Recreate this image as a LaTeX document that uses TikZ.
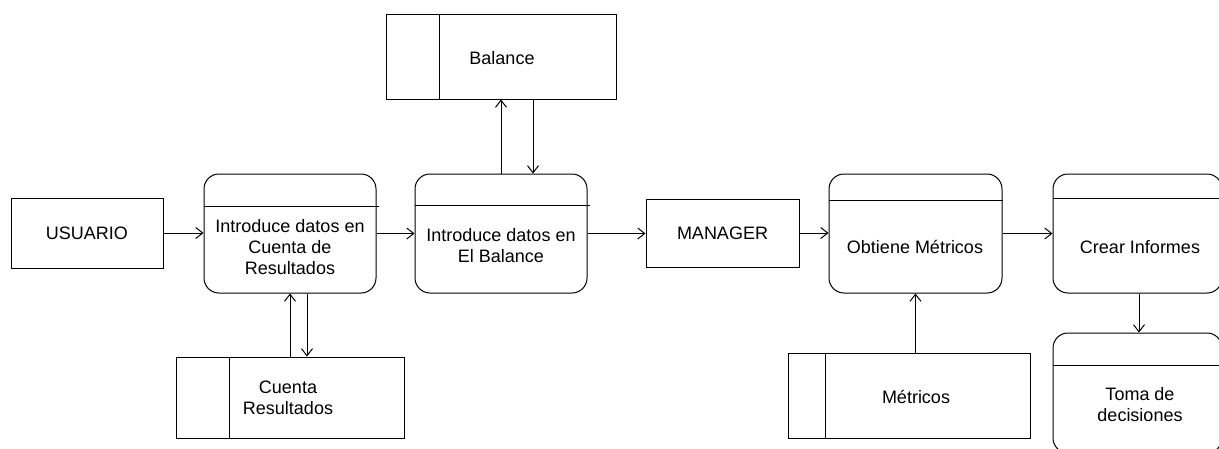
\documentclass[tikz,border=0pt]{standalone}
\usepackage{fontspec}
\setmainfont{Liberation Sans}
\usetikzlibrary{arrows.meta}
\begin{document}
\begin{tikzpicture}[x=1pt,y=-1pt,line width=1pt,
  txt/.style={font=\fontsize{18}{21}\selectfont,align=center,inner sep=0pt},
  ent/.style={draw,rectangle,inner sep=0pt,font=\fontsize{18}{21}\selectfont},
  proc/.style={draw,rectangle,rounded corners=15pt,inner sep=0pt},
  store/.style={draw,rectangle,inner sep=0pt},
  arr/.style={-{Straight Barb[length=7pt,width=11pt]}}]
\useasboundingbox (0,0) rectangle (1219,448);
\clip (0,0) rectangle (1219,448);
% external entities
\node[ent,minimum width=152pt,minimum height=70pt] (usr) at (87,233) {USUARIO};
\node[ent,minimum width=153pt,minimum height=68pt] (mgr) at (722.5,233) {MANAGER};
% processes
\node[proc,minimum width=172pt,minimum height=119pt] (p1) at (290,233.5) {};
\node[proc,minimum width=172pt,minimum height=119pt] (p2) at (501,233.5) {};
\node[proc,minimum width=173pt,minimum height=119pt] (p3) at (915.5,233.5) {};
\node[proc,minimum width=169pt,minimum height=119pt] (p4) at (1137.5,233.5) {};
\node[proc,minimum width=169pt,minimum height=120pt] (p5) at (1137.5,393) {};
\draw ([yshift=-33pt]p1.north west) -- ([yshift=-33pt,xshift=2pt]p1.north east);
\draw ([yshift=-32pt]p2.north west) -- ([yshift=-32pt,xshift=2pt]p2.north east);
\draw ([yshift=-27pt]p3.north west) -- ([yshift=-27pt]p3.north east);
\draw ([yshift=-25pt]p4.north west) -- ([yshift=-25pt]p4.north east);
\draw ([yshift=-33pt]p5.north west) -- ([yshift=-33pt]p5.north east);
\node[txt] (t1) at (290,247) {Introduce datos en\\Cuenta de\\Resultados};
\node[txt] (t2) at (501,246) {Introduce datos en\\El Balance};
\node[txt] (t3) at (915,247) {Obtiene Métricos};
\node[txt] (t4) at (1140,247) {Crear Informes};
\node[txt] (t5) at (1140,405) {Toma de\\decisiones};
% data stores
\node[store,minimum width=230pt,minimum height=85pt] (bal) at (501,56.5) {};
\draw ([xshift=54pt]bal.north west) -- ([xshift=54pt]bal.south west);
\node[txt] (tb) at (502,58) {Balance};
\node[store,minimum width=228pt,minimum height=81pt] (cr) at (290,397.5) {};
\draw ([xshift=54pt]cr.north west) -- ([xshift=54pt]cr.south west);
\node[txt] (tc) at (288,398) {Cuenta\\Resultados};
\node[store,minimum width=242pt,minimum height=85pt] (met) at (909,395.5) {};
\draw ([xshift=38pt]met.north west) -- ([xshift=38pt]met.south west);
\node[txt] (tm) at (916,397) {Métricos};
% flows
\draw[arr] (usr.east) -- (usr.east -| p1.west);
\draw[arr] (p1.east) -- (p1.east -| p2.west);
\draw[arr] (p2.east) -- (p2.east -| mgr.west);
\draw[arr] (mgr.east) -- (mgr.east -| p3.west);
\draw[arr] (p3.east) -- (p3.east -| p4.west);
\draw[arr] (p2.north) -- (p2.north |- bal.south);
\draw[arr] ([xshift=32pt]bal.south) -- ([xshift=32pt]bal.south |- p2.north);
\draw[arr] (cr.north) -- (cr.north |- p1.south);
\draw[arr] ([xshift=17pt]p1.south) -- ([xshift=17pt]p1.south |- cr.north);
\draw[arr] (p3.south |- met.north) -- (p3.south);
\draw[arr] ([xshift=1.5pt]p4.south) -- ([xshift=1.5pt]p4.south |- p5.north);
\end{tikzpicture}
\end{document}
